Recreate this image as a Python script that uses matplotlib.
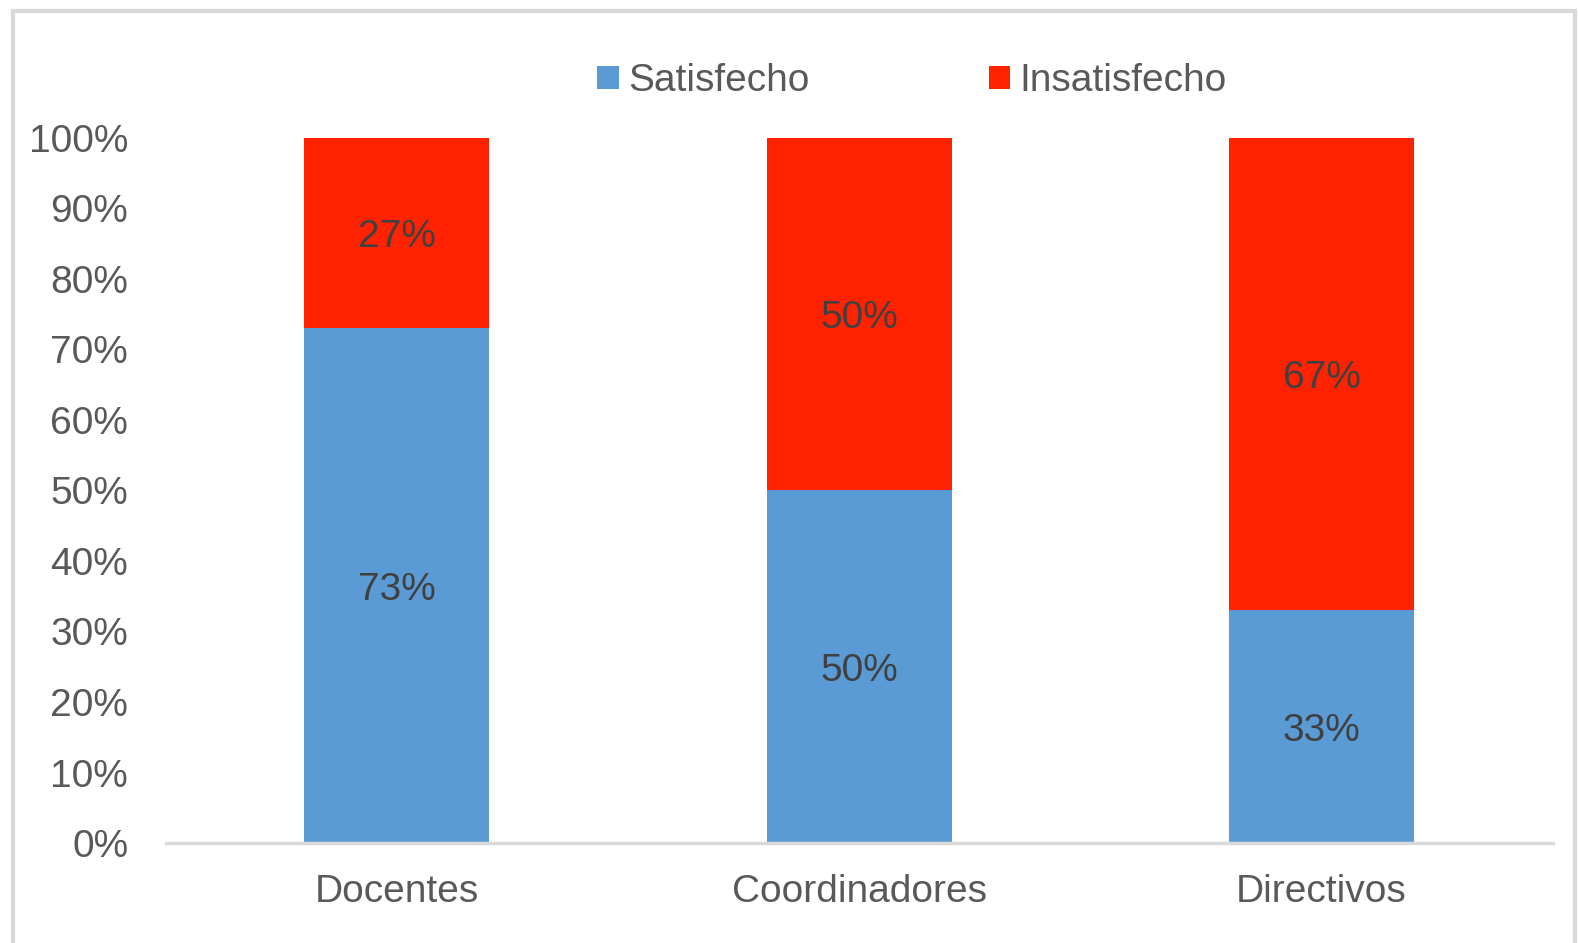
import matplotlib
matplotlib.use('Agg')
import matplotlib.pyplot as plt
from matplotlib.patches import Rectangle
from matplotlib.transforms import offset_copy

plt.rcParams['font.family'] = ['Liberation Sans', 'DejaVu Sans']

categories = ['Docentes', 'Coordinadores', 'Directivos']
satisfecho = [73, 50, 33]
insatisfecho = [27, 50, 67]
sat_labels = ['73%', '50%', '33%']
insat_labels = ['27%', '50%', '67%']
yticks = [0, 10, 20, 30, 40, 50, 60, 70, 80, 90, 100]

blue = '#5b9bd5'
red = '#ff2200'
txt = '#595959'

fig = plt.figure(figsize=(15.78, 9.43), dpi=100)
ax = fig.add_axes([0.105, 0.106, 0.879, 0.748])

x = range(len(categories))
b1 = ax.bar(x, satisfecho, width=0.4, color=blue, label='Satisfecho')
b2 = ax.bar(x, insatisfecho, width=0.4, bottom=satisfecho, color=red, label='Insatisfecho')

# etiquetas un poco mas abajo, como en el original
trans = offset_copy(ax.transData, fig=fig, x=0, y=-3, units='points')
for i in x:
    ax.text(i, satisfecho[i] / 2, sat_labels[i], ha='center', va='center',
            fontsize=28, color='#404040', transform=trans)
    ax.text(i, satisfecho[i] + insatisfecho[i] / 2, insat_labels[i], ha='center', va='center',
            fontsize=28, color='#404040', transform=trans)

ax.set_xlim(-0.5, 2.5)
ax.set_ylim(0, 100)
ax.set_yticks(yticks)
ax.set_yticklabels([f'{v}%' for v in yticks])
ax.set_xticks(list(x))
ax.set_xticklabels(categories)
ax.tick_params(axis='both', length=0, labelsize=28, labelcolor=txt)
ax.tick_params(axis='x', pad=22)
ax.tick_params(axis='y', pad=27)

for s in ['top', 'right', 'left']:
    ax.spines[s].set_visible(False)
ax.spines['bottom'].set_color('#d9d9d9')
ax.spines['bottom'].set_linewidth(2.5)

leg = fig.legend(handles=[b1, b2], loc='center', bbox_to_anchor=(0.578, 0.914),
                 ncol=2, frameon=False, fontsize=28, handlelength=0.55, handleheight=0.55,
                 handletextpad=0.25, columnspacing=4.6, labelcolor=txt)

fig.patches.append(Rectangle((0.008, -0.05), 0.99, 1.038, transform=fig.transFigure,
                             fill=False, edgecolor='#d9d9d9', linewidth=3))

fig.savefig('out.png', dpi=100)
